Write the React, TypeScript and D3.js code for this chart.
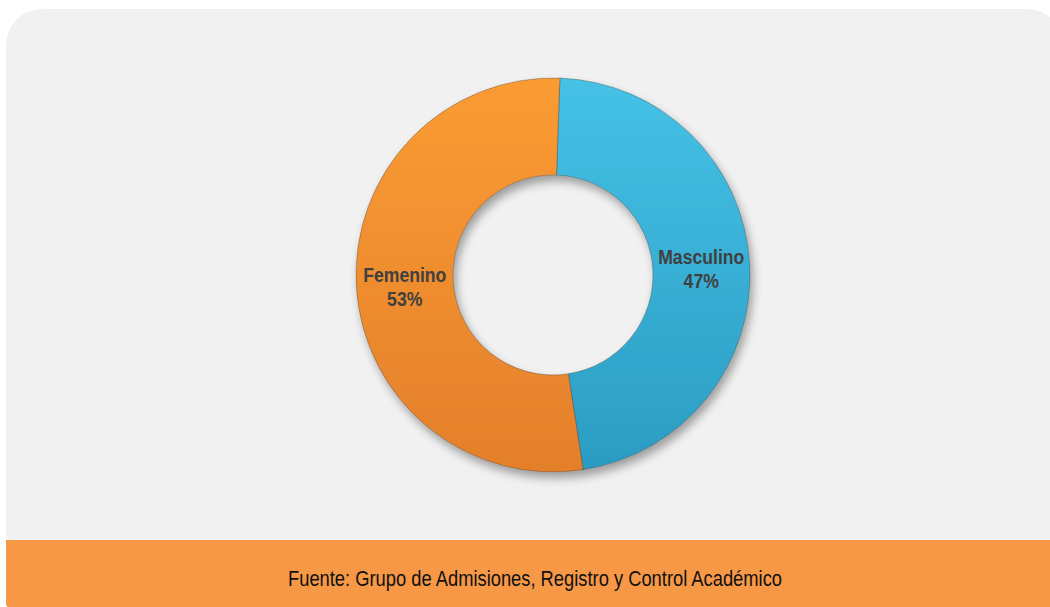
import React from "react";
import * as d3 from "d3";

const categories = ["Masculino", "Femenino"];
const values = [47, 53];
const sourceText = "Fuente: Grupo de Admisiones, Registro y Control Académico";

const W = 1050;
const H = 607;

export default function App() {
  const cx = 553;
  const cy = 275;
  const outerR = 197;
  const innerR = 100;
  const startOffset = (2 * Math.PI) / 180;

  const pie = d3
    .pie<number>()
    .sort(null)
    .value((d) => d)
    .startAngle(startOffset)
    .endAngle(startOffset + 2 * Math.PI);
  const arcs = pie(values);
  const arc = d3.arc<d3.PieArcDatum<number>>().innerRadius(innerR).outerRadius(outerR);
  const grads = ["gBlue", "gOrange"];

  return (
    <svg
      width={W}
      height={H}
      style={{ position: "absolute", left: 0, top: 0, display: "block" }}
    >
      <defs>
        <linearGradient id="gBlue" x1="0" y1="0" x2="0" y2="1">
          <stop offset="0%" stopColor="#45c2e6" />
          <stop offset="100%" stopColor="#2b9cc3" />
        </linearGradient>
        <linearGradient id="gOrange" x1="0" y1="0" x2="0" y2="1">
          <stop offset="0%" stopColor="#fa9c33" />
          <stop offset="100%" stopColor="#e47f2b" />
        </linearGradient>
        <filter id="shadow" x="-20%" y="-20%" width="140%" height="140%">
          <feGaussianBlur in="SourceAlpha" stdDeviation="5" />
          <feOffset dx="3" dy="6" result="ob" />
          <feComponentTransfer>
            <feFuncA type="linear" slope="0.35" />
          </feComponentTransfer>
          <feMerge>
            <feMergeNode />
            <feMergeNode in="SourceGraphic" />
          </feMerge>
        </filter>
      </defs>
      <rect x={0} y={0} width={W} height={H} fill="#ffffff" />
      <rect x={6} y={9} width={1057} height={560} rx={36} ry={36} fill="#f1f1f1" />
      <rect x={6} y={540} width={1050} height={67} rx={3} fill="#f79847" />
      <rect x={6} y={540} width={1050} height={30} fill="#f79847" />
      <g transform={`translate(${cx},${cy})`} filter="url(#shadow)">
        {arcs.map((a, i) => (
          <path
            key={categories[i]}
            d={arc(a) || ""}
            fill={`url(#${grads[i]})`}
            stroke="rgba(60,60,60,0.35)"
            strokeWidth={1}
          />
        ))}
      </g>
      <g transform={`translate(${cx},${cy})`}>
        {arcs.map((a, i) => {
          const [x, y] = arc.centroid(a);
          return (
            <g key={categories[i]} transform={`translate(${x},${y}) scale(0.84,1)`}>
              <text
                textAnchor="middle"
                fontFamily="'Liberation Sans', Arial, sans-serif"
                fontWeight="bold"
                fontSize={21}
                fill="#404040"
              >
                <tspan x={0} y={-2}>{categories[i]}</tspan>
                <tspan x={0} y={22}>{`${values[i]}%`}</tspan>
              </text>
            </g>
          );
        })}
      </g>
      <text
        x={535}
        y={586}
        textAnchor="middle"
        fontFamily="'Liberation Sans Narrow', 'Liberation Sans', Arial, sans-serif"
        fontSize={22}
        fill="#111111"
        textLength={494}
        lengthAdjust="spacingAndGlyphs"
      >
        {sourceText}
      </text>
    </svg>
  );
}
